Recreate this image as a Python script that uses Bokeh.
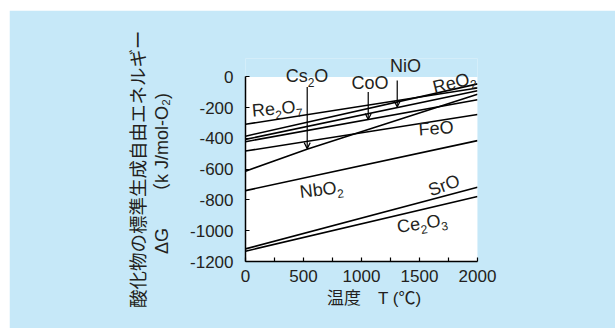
from math import radians, cos, sin
from bokeh.plotting import figure
from bokeh.models import (FixedTicker, Label, Arrow, OpenHead, Range1d, BoxAnnotation,
                          LinearAxis, PrintfTickFormatter)
from bokeh.embed import file_html
from bokeh.resources import INLINE

# ---- data ----
temp = [0, 2000]
re2o7 = [-308, -72]
reo2 = [-385, -45]
nio = [-406, -90]
coo = [-421, -148]
feo = [-482, -244]
cs2o_temp = [0, 530, 2000]
cs2o = [-613, -470, -112]
nbo2 = [-739, -414]
sro = [-1118, -717]
ce2o3 = [-1133, -777]

x_ticks = [0, 500, 1000, 1500, 2000]
x_minor = [250, 750, 1250, 1750]
y_ticks = [-1200, -1000, -800, -600, -400, -200, 0]

X_MIN, X_MAX = 0, 2000
Y_MIN, Y_MAX = -1200, 0
Y_TOP = Y_MAX + 120

BLUE = "#c6e8f8"
INK = "#231f20"
LAT = "Liberation Sans"
MIX = "Liberation Sans, Noto Sans CJK JP"
CJK = "Noto Sans CJK JP"

W_FIG, H_FIG = 606, 318
MB_L, MB_R, MB_T, MB_B = 236, 138, 48, 67

p = figure(width=W_FIG, height=H_FIG, output_backend="svg", toolbar_location=None,
           x_range=Range1d(X_MIN, X_MAX), y_range=Range1d(Y_MIN, Y_TOP),
           min_border_left=MB_L, min_border_right=MB_R, min_border_top=MB_T,
           min_border_bottom=MB_B, margin=(10, 0, 0, 9))
p.border_fill_color = BLUE
p.background_fill_color = BLUE
p.outline_line_color = None
p.grid.visible = False

# pixels per data unit (for laying out label pieces)
KX = (W_FIG - MB_L - MB_R) / (X_MAX - X_MIN)
KY = (H_FIG - MB_T - MB_B) / (Y_TOP - Y_MIN)

# white plotting area
p.add_layout(BoxAnnotation(left=X_MIN, right=X_MAX, bottom=Y_MIN, top=Y_MAX,
                           fill_color="white", fill_alpha=1, line_color=None, level="underlay"))

for ax in (p.xaxis[0], p.yaxis[0]):
    ax.axis_line_color = "black"
    ax.axis_line_width = 1.5
    ax.major_tick_line_color = "black"
    ax.major_tick_line_width = 1.2
    ax.minor_tick_line_color = "black"
    ax.minor_tick_line_width = 1.2
    ax.major_tick_in = 4
    ax.major_tick_out = 0
    ax.minor_tick_in = 4
    ax.minor_tick_out = 0
    ax.major_label_text_font = LAT
    ax.major_label_text_font_size = "17px"
    ax.major_label_text_color = INK
    ax.formatter = PrintfTickFormatter(format="%d")
    ax.axis_label_text_font_style = "normal"
    ax.axis_label_text_color = INK

p.xaxis.ticker = FixedTicker(ticks=x_ticks, minor_ticks=x_minor)
p.yaxis.ticker = FixedTicker(ticks=y_ticks, minor_ticks=[])
p.yaxis.bounds = (Y_MIN, Y_MAX)
p.xaxis.major_label_standoff = 8
p.yaxis.major_label_standoff = 12

p.xaxis.axis_label = "\u3000\u2002温度　T (℃)"
p.xaxis.axis_label_text_font = MIX
p.xaxis.axis_label_text_font_size = "17px"
p.xaxis.axis_label_standoff = 4

p.yaxis.axis_label = "ΔG\u3000\u2002（k J/mol-O₂)\u3000\u2002"
p.yaxis.axis_label_text_font = MIX
p.yaxis.axis_label_text_font_size = "18px"
p.yaxis.axis_label_standoff = 15

outer = LinearAxis(ticker=FixedTicker(ticks=[], minor_ticks=[]), axis_line_color=None,
                   major_tick_line_color=None, minor_tick_line_color=None,
                   major_label_text_font_size="0px", major_label_standoff=0,
                   axis_label="酸化物の標準生成自由エネルギー\u3000", axis_label_standoff=0,
                   axis_label_text_font=CJK, axis_label_text_font_size="18.5px",
                   axis_label_text_font_style="normal", axis_label_text_color=INK)
p.add_layout(outer, "left")

LW = 1.6
for xs, ys in [(temp, re2o7), (temp, reo2), (temp, nio), (temp, coo), (temp, feo),
               (cs2o_temp, cs2o), (temp, nbo2), (temp, sro), (temp, ce2o3)]:
    p.line(xs, ys, line_color="black", line_width=LW)

# approximate Liberation Sans advance widths (em)
W = {"C": .722, "s": .5, "o": .556, "O": .778, "R": .722, "e": .556, "N": .722,
     "b": .556, "F": .611, "S": .667, "r": .333, "i": .222}

def tw(s, size):
    return sum(W.get(c, .556) for c in s) * size

def rich(parts, cx, cy, angle_deg=0, size=18, sub=12, drop=6.0):
    """Lay out a label with subscripts centred on (cx, cy)."""
    a = radians(angle_deg)
    ca, sa = cos(a), sin(a)
    widths = [tw(t, sub if s else size) for t, s in parts]
    d = -sum(widths) / 2
    for (t, s), w in zip(parts, widths):
        perp = -drop if s else 0.0
        dx = d * ca - perp * sa
        dy = d * sa + perp * ca
        p.add_layout(Label(x=cx + dx / KX, y=cy + dy / KY, text=t, angle=a, text_font=LAT,
                           text_font_size=f"{sub if s else size}px", text_color=INK,
                           text_align="left", text_baseline="middle"))
        d += w

# series labels
rich([("Cs", 0), ("2", 1), ("O", 0)], 530, 3)
rich([("CoO", 0)], 1073, -42)
rich([("NiO", 0)], 1379, 68)
rich([("ReO", 0), ("2", 1)], 1800, -36, 14)
rich([("Re", 0), ("2", 1), ("O", 0), ("7", 1)], 272, -205, 5)
rich([("FeO", 0)], 1642, -334, 4)
rich([("NbO", 0), ("2", 1)], 655, -731, 7)
rich([("SrO", 0)], 1711, -705, 20)
rich([("Ce", 0), ("2", 1), ("O", 0), ("3", 1)], 1522, -951, 9)

# arrows
for x, y0, y1 in [(532, -66, -466), (1058, -98, -276), (1308, -23, -196)]:
    p.add_layout(Arrow(x_start=x, y_start=y0, x_end=x, y_end=y1, line_color="black",
                       line_width=1.2,
                       end=OpenHead(size=6, line_color="black", line_width=1.2)))

open("out.html", "w").write(file_html(p, INLINE))
